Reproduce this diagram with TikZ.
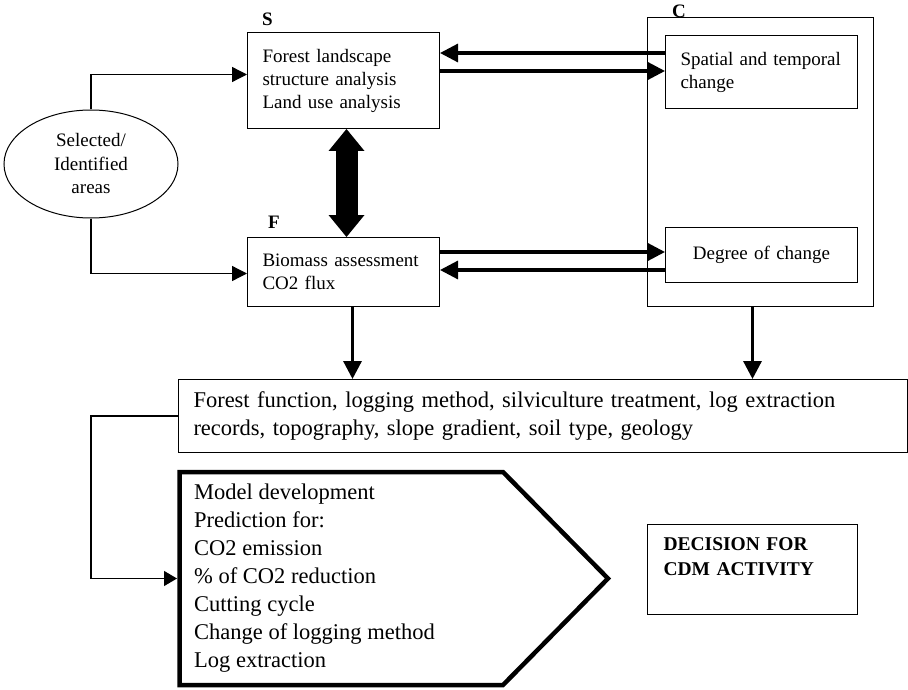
\documentclass[tikz,border=0pt]{standalone}
\usepackage{fontspec}
\setmainfont{Liberation Serif}
\usetikzlibrary{arrows.meta,shapes.geometric}

\begin{document}
\begin{tikzpicture}[x=1pt,y=-1pt,
  box/.style={draw,line width=1pt,inner ysep=0pt,inner xsep=15pt,align=left,font=\fontsize{19}{23}\selectfont},
  bigtxt/.style={font=\fontsize{22.5}{28}\selectfont},
  lab/.style={font=\fontsize{19}{19}\selectfont\bfseries,inner sep=0pt,anchor=base west},
  feedarrow/.style={line width=1.3pt,-{Triangle[length=15pt,width=15pt]}},
  linkarrow/.style={line width=3.2pt,-{Triangle[length=18pt,width=18pt]}}]
\useasboundingbox (0,0) rectangle (908,690);

% study areas
\node[ellipse,draw,line width=1pt,minimum width=174pt,minimum height=108pt,inner sep=0pt,align=center,font=\fontsize{19}{23.5}\selectfont] (area) at (91,164) {Selected/\\Identified\\areas};

% S, F and C blocks
\node[box,text width=162pt,minimum height=96pt,anchor=north west] (S) at (247,32) {Forest landscape\\structure analysis\\Land use analysis};
\node[box,text width=162pt,minimum height=69pt,anchor=north west] (F) at (247,237) {Biomass assessment\\CO2 flux};
\node[draw,line width=1pt,inner sep=0pt,minimum width=226pt,minimum height=289pt,anchor=north west] (C) at (647,17) {};
\node[box,text width=162pt,minimum height=73pt,anchor=north west] (spat) at (665,35) {Spatial and temporal\\change};
\node[box,align=center,text width=162pt,minimum height=55pt,anchor=north west] (deg) at (665,227) {Degree of change};
\node[lab] (Slab) at ([xshift=15pt,yshift=6pt]S.north west) {S};
\node[lab] (Flab) at ([xshift=21pt,yshift=9pt]F.north west) {F};
\node[lab] (Clab) at ([xshift=25pt,yshift=-1pt]C.north west) {C};

% factors
\node[box,bigtxt,text width=699pt,minimum height=73pt,anchor=north west] (fac) at (178,379) {Forest function, logging method, silviculture treatment, log extraction\\records, topography, slope gradient, soil type, geology};

% model
\draw[line width=4.5pt] (179.5,472) -- (503,472) -- (608,578.5) -- (503,685) -- (179.5,685) -- cycle;
\coordinate (modin) at (177,578.5);
\node[bigtxt,align=left,inner sep=0pt,anchor=north west] (model) at (194,484) {Model development\\Prediction for:\\CO2 emission\\\%~of CO2 reduction\\Cutting cycle\\Change of logging method\\Log extraction};

\node[box,font=\fontsize{19.5}{25}\selectfont\bfseries,inner xsep=16pt,text width=178pt,minimum height=90pt,anchor=north west] (dec) at (647,524) {DECISION FOR\\CDM ACTIVITY\\\mbox{}};

% connectors
\draw[feedarrow] (area.north) |- ([yshift=6pt]S.west);
\draw[feedarrow] (area.south) |- ([yshift=-1.5pt]F.west);
\draw[linkarrow] (spat.west |- 0,53) -- (S.east |- 0,53);
\draw[linkarrow] (S.east |- 0,71) -- (spat.west |- 0,71);
\draw[linkarrow] (F.east |- 0,252) -- (deg.west |- 0,252);
\draw[linkarrow] (deg.west |- 0,270) -- (F.east |- 0,270);
\draw[line width=22pt,{Triangle[length=22pt,width=36pt,line width=0pt]}-{Triangle[length=22pt,width=36pt,line width=0pt]}] ([xshift=3pt]S.south) -- ([xshift=3pt]F.north);
\draw[linkarrow] ([xshift=9pt]F.south) -- ([xshift=9pt]F.south |- fac.north);
\draw[linkarrow] ([xshift=-8pt]C.south) -- ([xshift=-8pt]C.south |- fac.north);
\draw[feedarrow,-{Triangle[length=13pt,width=15pt]}] (fac.west) -- ++(-87,0) |- (modin);
\end{tikzpicture}
\end{document}
